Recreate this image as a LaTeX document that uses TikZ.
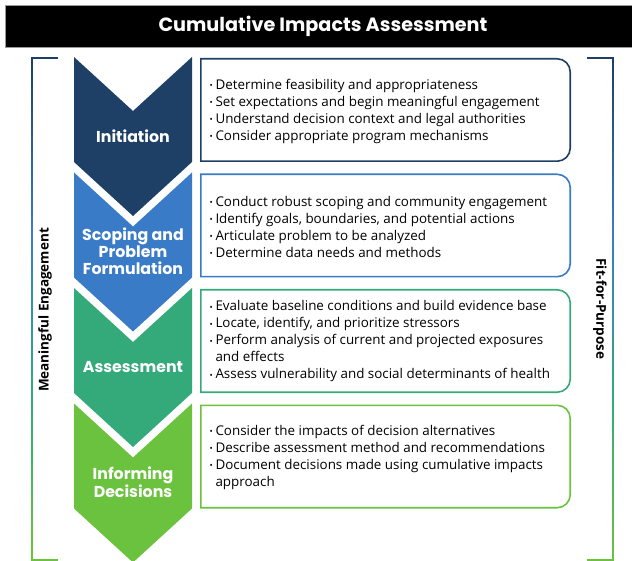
\documentclass[tikz,border=0pt]{standalone}
\usepackage{fontspec}
\setmainfont{Open Sans}
\newfontfamily\headfont{Poppins}
\usetikzlibrary{positioning}

\definecolor{initcol}{HTML}{1E3F66}
\definecolor{scopecol}{HTML}{3A7BC8}
\definecolor{assesscol}{HTML}{34AA7B}
\definecolor{informcol}{HTML}{6BC23E}

\newcommand{\bul}{\makebox[6pt][l]{\raisebox{0.6pt}{\fontsize{8.5}{8}\selectfont\textbullet}}}
\newcommand{\cont}{\hspace*{6pt}}

\begin{document}
\begin{tikzpicture}[x=1pt,y=-1pt,
	steplabel/.style={text=white,font=\headfont\bfseries\fontsize{15.8}{17}\selectfont,align=center},
	listtext/.style={anchor=west,align=left,inner sep=0pt,font=\fontsize{13.4}{17}\selectfont},
	boxframe/.style={minimum width=369pt,minimum height=102pt,inner sep=0pt},
	boxline/.style={draw=#1,line width=1.6pt},
	sidelabel/.style={font=\bfseries\fontsize{13.5}{15}\selectfont}]
	
	\useasboundingbox (0,0) rectangle (632,561);
	
	%title
	\fill[black,draw=black!40,line width=0.6pt] (5,5) rectangle (634,47.5);
	\node[text=white,font=\headfont\bfseries\fontsize{19.2}{22}\selectfont](title) at (323,26.5) {Cumulative Impacts Assessment};
	
	%chevrons
	\fill[initcol] (74,57) -- (133,111) -- (192,57) -- (192,162) -- (133,216) -- (74,162) -- cycle;
	\fill[scopecol] (74,172.5) -- (133,226.5) -- (192,172.5) -- (192,277.5) -- (133,331.5) -- (74,277.5) -- cycle;
	\fill[assesscol] (74,288) -- (133,342) -- (192,288) -- (192,393) -- (133,447) -- (74,393) -- cycle;
	\fill[informcol] (74,403.5) -- (133,457.5) -- (192,403.5) -- (192,508.5) -- (133,562.5) -- (74,508.5) -- cycle;
	\node[steplabel](init) at (133,136) {Initiation};
	\node[steplabel](scope) at (133,251) {Scoping and\\Problem\\Formulation};
	\node[steplabel](assess) at (133,367) {Assessment};
	\node[steplabel](inform) at (133,482) {Informing\\Decisions};
	
	%boxes
	\node[boxframe](initbox) at (385.5,110) {};
	\node[boxframe](scopebox) at (385.5,225.5) {};
	\node[boxframe](assessbox) at (385.5,341) {};
	\node[boxframe](informbox) at (385.5,456.5) {};
	\draw[boxline=initcol] (initbox.south west) -- (initbox.north west) [rounded corners=13pt] -- (initbox.north east) -- (initbox.south east) [sharp corners] -- cycle;
	\draw[boxline=scopecol] (scopebox.south west) -- (scopebox.north west) [rounded corners=13pt] -- (scopebox.north east) -- (scopebox.south east) [sharp corners] -- cycle;
	\draw[boxline=assesscol] (assessbox.south west) -- (assessbox.north west) [rounded corners=13pt] -- (assessbox.north east) -- (assessbox.south east) [sharp corners] -- cycle;
	\draw[boxline=informcol] (informbox.south west) -- (informbox.north west) [rounded corners=13pt] -- (informbox.north east) -- (informbox.south east) [sharp corners] -- cycle;
	
	%lists
	\node[listtext](initlist) at ([xshift=8.5pt,yshift=-1.5pt]initbox.west) {\bul Determine feasibility and appropriateness\\
		\bul Set expectations and begin meaningful engagement\\
		\bul Understand decision context and legal authorities\\
		\bul Consider appropriate program mechanisms};
	\node[listtext](scopelist) at ([xshift=8.5pt,yshift=-1.5pt]scopebox.west) {\bul Conduct robust scoping and community engagement\\
		\bul Identify goals, boundaries, and potential actions\\
		\bul Articulate problem to be analyzed\\
		\bul Determine data needs and methods};
	\node[listtext](assesslist) at ([xshift=8.5pt,yshift=-0.5pt]assessbox.west) {\bul Evaluate baseline conditions and build evidence base\\
		\bul Locate, identify, and prioritize stressors\\
		\bul Perform analysis of current and projected exposures\\
		\cont and effects\\
		\bul Assess vulnerability and social determinants of health};
	\node[listtext](informlist) at ([xshift=8.5pt,yshift=-1pt]informbox.west) {\bul Consider the impacts of decision alternatives\\
		\bul Describe assessment method and recommendations\\
		\bul Document decisions made using cumulative impacts\\
		\cont approach};
	
	%brackets
	\shade[top color=initcol,bottom color=scopecol] (31.2,58) rectangle (32.8,230);
	\shade[top color=scopecol,bottom color=assesscol] (31.2,230) rectangle (32.8,400);
	\shade[top color=assesscol,bottom color=informcol] (31.2,400) rectangle (32.8,560.8);
	\draw[initcol,line width=1.6pt] (31.2,58) -- (58,58);
	\draw[informcol,line width=1.6pt] (31.2,560) -- (58,560);
	\shade[top color=initcol,bottom color=scopecol] (612.2,58) rectangle (613.8,230);
	\shade[top color=scopecol,bottom color=assesscol] (612.2,230) rectangle (613.8,400);
	\shade[top color=assesscol,bottom color=informcol] (612.2,400) rectangle (613.8,560.8);
	\draw[initcol,line width=1.6pt] (587,58) -- (613.8,58);
	\draw[informcol,line width=1.6pt] (587,560) -- (613.8,560);
	\node[sidelabel,rotate=90](engage) at (45,310) {Meaningful Engagement};
	\node[sidelabel,rotate=-90](fit) at (600,309) {Fit-for-Purpose};
	
\end{tikzpicture}
\end{document}
